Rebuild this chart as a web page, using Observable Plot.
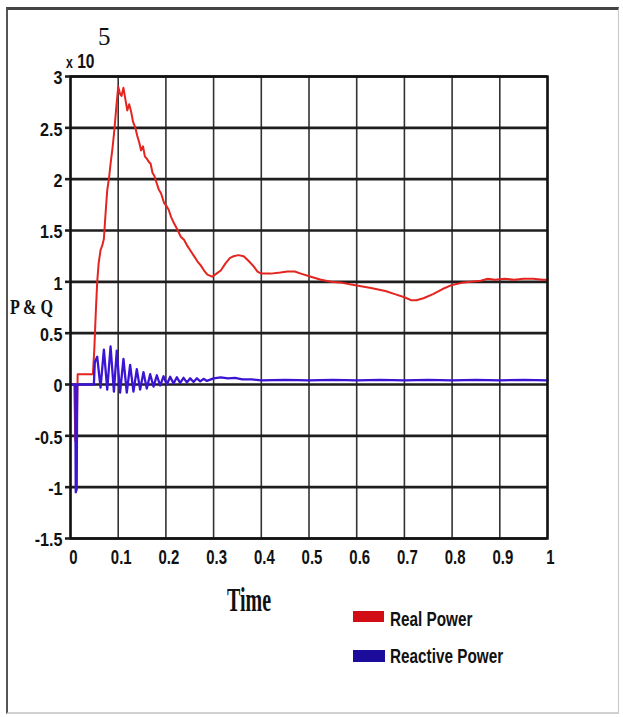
<!DOCTYPE html>
<html>
<head>
<meta charset="utf-8">
<script src="https://cdn.jsdelivr.net/npm/d3@7"></script>
<script src="https://cdn.jsdelivr.net/npm/@observablehq/plot@0.6"></script>
<style>
  body { margin: 0; background: #fff; }
  #wrap { position: relative; width: 623px; height: 717px; overflow: hidden; background: #fff; }
  #border { position: absolute; left: 6px; top: 7px; width: 613px; height: 707px;
            border-left: 2px solid #555; border-top: 3px solid #444;
            border-right: 1px solid #c8c8c8; border-bottom: 2px solid #d0d0d0; box-sizing: border-box; }
  #chart { position: absolute; left: 0; top: 0; }
  .lbl { position: absolute; white-space: nowrap; line-height: 1; color: #111; }
  .sans { font-family: "Liberation Sans", Arial, sans-serif; font-weight: bold; }
  .serif { font-family: "Liberation Serif", "Times New Roman", serif; }
  .sw { position: absolute; }
</style>
</head>
<body>
<div id="wrap">
  <div id="border"></div>
  <div id="chart"></div>
  <div class="lbl sans" style="left:66px;top:51px;font-size:19px;transform:scale(0.82,1.05);transform-origin:left top;"><span style="font-size:15px">x</span> 10</div>
  <div class="lbl serif" style="left:98px;top:24px;font-size:25px;">5</div>
  <div class="lbl serif" style="left:10px;top:296px;font-size:19px;font-weight:bold;transform:scale(0.85,1.15);transform-origin:left top;">P &amp; Q</div>
  <div class="lbl serif" style="left:227px;top:582px;font-size:20px;font-weight:bold;transform:scaleY(1.7);transform-origin:left top;">Time</div>
  <div class="sw" id="swReal" style="left:353px;top:611px;width:31px;height:11px;"></div>
  <div class="lbl sans" id="txtReal" style="left:390px;top:609px;font-size:18px;transform:scale(0.85,1.15);transform-origin:left top;"></div>
  <div class="sw" id="swReact" style="left:353px;top:650px;width:32px;height:12px;"></div>
  <div class="lbl sans" id="txtReact" style="left:390px;top:646px;font-size:18px;transform:scale(0.85,1.15);transform-origin:left top;"></div>
</div>
<script>
// ---- data (values in units of 10^5) ----
const seriesNames = ["Real Power", "Reactive Power"];
const seriesColors = ["#e3241f", "#3b14d4"];
const swatchColors = ["#d20d16", "#1c0c9c"];

const xTicks = [0, 0.1, 0.2, 0.3, 0.4, 0.5, 0.6, 0.7, 0.8, 0.9, 1];
const xTickLabels = ["0", "0.1", "0.2", "0.3", "0.4", "0.5", "0.6", "0.7", "0.8", "0.9", "1"];
const yTicks = [-1.5, -1, -0.5, 0, 0.5, 1, 1.5, 2, 2.5, 3];
const yTickLabels = ["-1.5", "-1", "-0.5", "0", "0.5", "1", "1.5", "2", "2.5", "3"];

// [time, P]
const realPower = [
  [0,0],[0.008,0],[0.010,-0.55],[0.013,-0.55],[0.015,0.1],[0.047,0.1],[0.050,0.35],[0.053,0.7],
  [0.056,1.0],[0.059,1.18],[0.063,1.31],[0.067,1.36],[0.070,1.42],[0.074,1.7],[0.077,1.89],
  [0.081,2.02],[0.084,2.15],[0.088,2.3],[0.092,2.48],[0.096,2.7],[0.100,2.9],[0.104,2.83],
  [0.107,2.81],[0.111,2.89],[0.115,2.78],[0.119,2.67],[0.123,2.73],[0.127,2.66],[0.131,2.56],
  [0.136,2.5],[0.140,2.42],[0.144,2.36],[0.148,2.28],[0.152,2.32],[0.156,2.22],[0.160,2.2],
  [0.164,2.17],[0.168,2.15],[0.172,2.06],[0.176,2.03],[0.180,1.97],[0.185,1.9],[0.190,1.86],
  [0.196,1.77],[0.201,1.74],[0.206,1.7],[0.211,1.63],[0.217,1.57],[0.224,1.51],[0.231,1.44],
  [0.238,1.41],[0.245,1.35],[0.252,1.30],[0.259,1.25],[0.266,1.20],[0.273,1.16],[0.280,1.11],
  [0.287,1.07],[0.297,1.05],[0.306,1.08],[0.315,1.11],[0.325,1.18],[0.334,1.23],[0.342,1.25],
  [0.352,1.26],[0.363,1.25],[0.372,1.21],[0.384,1.15],[0.392,1.10],[0.400,1.08],[0.420,1.08],
  [0.440,1.09],[0.455,1.10],[0.470,1.10],[0.483,1.08],[0.504,1.05],[0.525,1.02],[0.546,1.0],
  [0.570,0.99],[0.594,0.97],[0.630,0.94],[0.660,0.91],[0.680,0.88],[0.700,0.85],[0.715,0.82],
  [0.725,0.82],[0.740,0.84],[0.760,0.88],[0.780,0.93],[0.800,0.97],[0.820,0.99],[0.840,1.0],
  [0.860,1.01],[0.875,1.03],[0.890,1.02],[0.910,1.03],[0.930,1.02],[0.950,1.03],[0.970,1.03],
  [0.990,1.02],[1.0,1.02]
];

// [time, Q]
const reactivePower = [
  [0,0],[0.010,0],[0.011,-1.05],[0.013,-1.02],[0.014,0],[0.049,0],[0.051,0.22],[0.056,0.27],
  [0.063,-0.03],[0.070,0.34],[0.077,-0.05],[0.084,0.37],[0.091,-0.07],[0.097,0.33],[0.104,-0.08],
  [0.111,0.25],[0.118,-0.08],[0.125,0.19],[0.132,-0.07],[0.139,0.15],[0.146,-0.05],[0.153,0.12],
  [0.160,-0.04],[0.167,0.10],[0.174,-0.02],[0.181,0.09],[0.188,-0.01],[0.195,0.08],[0.202,0.0],
  [0.209,0.075],[0.216,0.01],[0.223,0.07],[0.230,0.015],[0.237,0.065],[0.244,0.02],[0.251,0.06],
  [0.258,0.025],[0.265,0.06],[0.272,0.03],[0.279,0.055],[0.286,0.035],[0.300,0.06],[0.315,0.07],
  [0.330,0.06],[0.345,0.065],[0.360,0.05],[0.380,0.05],[0.400,0.04],[0.450,0.045],[0.500,0.04],
  [0.550,0.045],[0.600,0.04],[0.650,0.045],[0.700,0.04],[0.750,0.045],[0.800,0.04],[0.850,0.045],
  [0.900,0.04],[0.950,0.045],[1.0,0.04]
];

const realData = realPower.map(([t, v]) => ({t, v}));
const reactData = reactivePower.map(([t, v]) => ({t, v}));

const sansFont = '"Liberation Sans", Arial, sans-serif';

const chart = Plot.plot({
  width: 623,
  height: 717,
  marginLeft: 70,
  marginRight: 76,
  marginTop: 76,
  marginBottom: 179,
  x: {domain: [0, 1]},
  y: {domain: [-1.5, 3]},
  style: {background: "transparent", fontFamily: sansFont, fontWeight: "bold", fontSize: "17px", color: "#111"},
  marks: [
    Plot.ruleX(xTicks, {stroke: "#333", strokeWidth: 1.6}),
    Plot.ruleY(yTicks, {stroke: "#1e1e1e", strokeWidth: 2.6}),
    Plot.line(realData, {x: "t", y: "v", stroke: seriesColors[0], strokeWidth: 2}),
    Plot.line(reactData, {x: "t", y: "v", stroke: seriesColors[1], strokeWidth: 2.3}),
    Plot.frame({stroke: "#111", strokeWidth: 2.5}),
    Plot.axisY({ticks: yTicks, tickSize: 5, stroke: "#1e1e1e", strokeWidth: 2.6, tickFormat: () => "", label: null}),
    Plot.axisY({ticks: yTicks, tickSize: 0, tickPadding: 8, dy: 2, label: null,
      tickFormat: d => yTickLabels[yTicks.indexOf(d)]}),
    Plot.axisX({ticks: xTicks, tickSize: 0, tickPadding: 11, dx: 3, label: null,
      tickFormat: d => xTickLabels[xTicks.indexOf(d)]})
  ]
});

// condense / stretch tick label glyphs like the reference
function restyle(selector, sx, sy) {
  chart.querySelectorAll(selector).forEach(t => {
    const tr = t.getAttribute("transform");
    if (tr) {
      t.setAttribute("transform", tr + ` scale(${sx},${sy})`);
    } else {
      const x = +t.getAttribute("x") || 0, y = +t.getAttribute("y") || 0;
      t.setAttribute("transform", `translate(${x},${y}) scale(${sx},${sy}) translate(${-x},${-y})`);
    }
  });
}
restyle('g[aria-label="x-axis tick label"] text', 0.88, 1.2);
restyle('g[aria-label="y-axis tick label"] text', 0.95, 1.08);

document.getElementById("chart").appendChild(chart);

document.getElementById("swReal").style.background = swatchColors[0];
document.getElementById("swReact").style.background = swatchColors[1];
document.getElementById("txtReal").textContent = seriesNames[0];
document.getElementById("txtReact").textContent = seriesNames[1];
</script>
</body>
</html>
